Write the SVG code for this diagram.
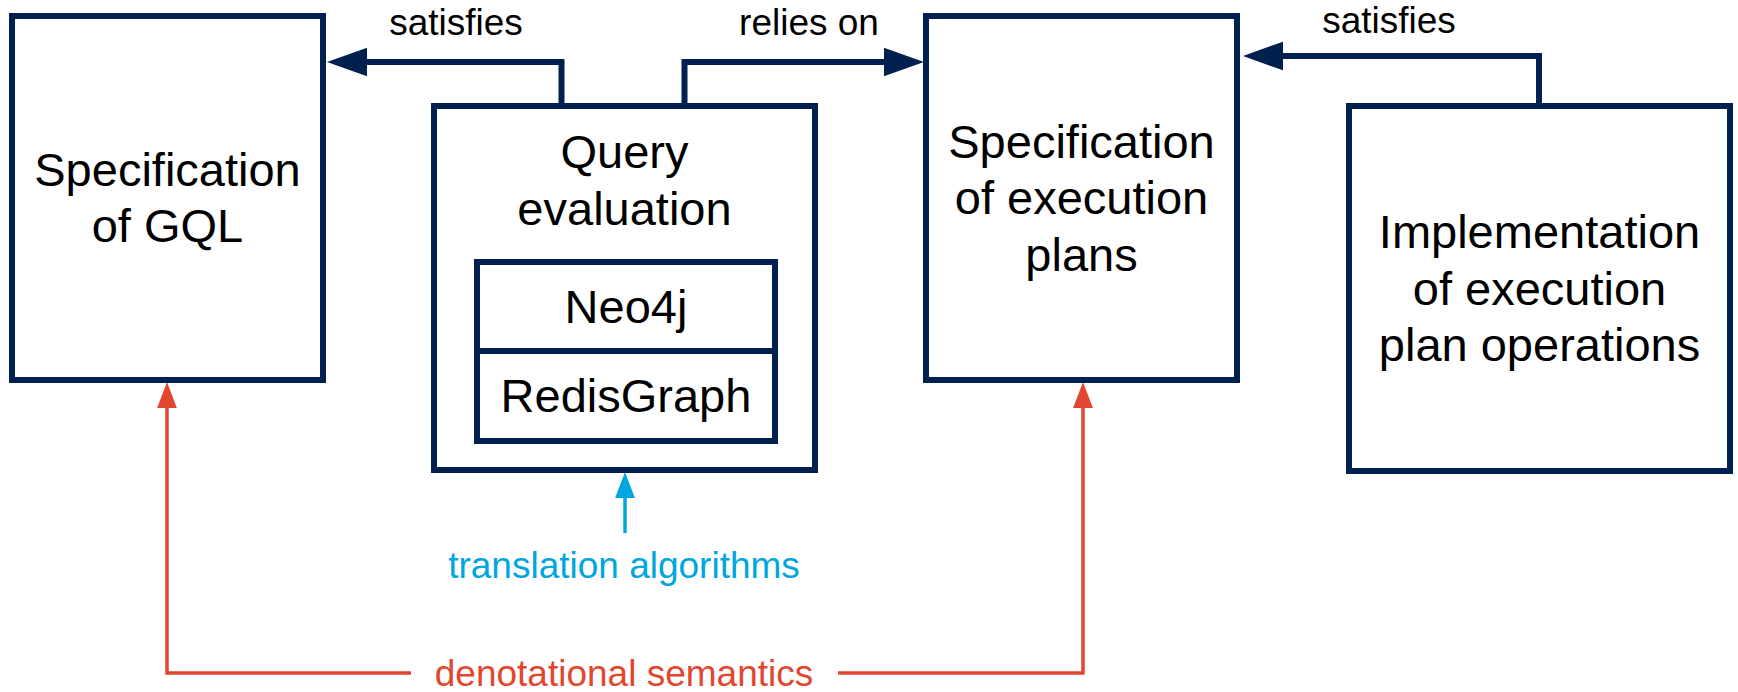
<svg xmlns="http://www.w3.org/2000/svg" width="1738" height="692" viewBox="0 0 1738 692">
  <style>
    .box { fill: #fff; stroke: #00214F; stroke-width: 6; }
    .nt { font-family: "Liberation Sans", Arial, sans-serif; font-size: 47px; fill: #000; text-anchor: middle; }
    .lbl { font-family: "Liberation Sans", Arial, sans-serif; font-size: 37px; text-anchor: middle; }
    .navy { fill: none; stroke: #00214F; stroke-width: 6; stroke-linejoin: miter; }
    .red { fill: none; stroke: #E2462F; stroke-width: 3.5; stroke-linejoin: miter; }
    .blue { fill: none; stroke: #00A6E0; stroke-width: 3.5; }
  </style>
  <defs>
    <marker id="ahNavy" markerUnits="userSpaceOnUse" markerWidth="40" markerHeight="30" viewBox="0 0 39 28" refX="0" refY="14" orient="auto">
      <path d="M0,0 L39,14 L0,28 z" fill="#00214F"/>
    </marker>
    <marker id="ahRed" markerUnits="userSpaceOnUse" markerWidth="26" markerHeight="20" viewBox="0 0 25 19" refX="0" refY="9.5" orient="auto">
      <path d="M0,0 L25,9.5 L0,19 z" fill="#E2462F"/>
    </marker>
    <marker id="ahBlue" markerUnits="userSpaceOnUse" markerWidth="26" markerHeight="20" viewBox="0 0 25 19" refX="0" refY="9.5" orient="auto">
      <path d="M0,0 L25,9.5 L0,19 z" fill="#00A6E0"/>
    </marker>
  </defs>
  <rect width="1738" height="692" fill="#fff"/>

  <g id="connectors">
    <path class="navy" d="M561.5,106 V62 H367" marker-end="url(#ahNavy)"/>
    <path class="navy" d="M684.5,106 V62 H884" marker-end="url(#ahNavy)"/>
    <path class="navy" d="M1539,106 V56 H1283" marker-end="url(#ahNavy)"/>
    <path class="red" d="M411,673 H167 V408" marker-end="url(#ahRed)"/>
    <path class="red" d="M838,673 H1083 V408" marker-end="url(#ahRed)"/>
    <path class="blue" d="M625,533 V498" marker-end="url(#ahBlue)"/>
    <text class="lbl" x="456" y="35" fill="#000">satisfies</text>
    <text class="lbl" x="809" y="35" fill="#000">relies on</text>
    <text class="lbl" x="1389" y="33" fill="#000">satisfies</text>
    <text class="lbl" x="624" y="578" fill="#00A6E0">translation algorithms</text>
    <text class="lbl" x="624" y="686" fill="#E2462F">denotational semantics</text>
  </g>

  <g id="spec-gql">
    <rect class="box" x="12" y="16" width="311" height="364"/>
    <text class="nt" x="167.5" y="186">Specification</text>
    <text class="nt" x="167.5" y="242">of GQL</text>
  </g>

  <g id="query-evaluation">
    <rect class="box" x="434" y="106" width="381" height="364"/>
    <text class="nt" x="624.5" y="168">Query</text>
    <text class="nt" x="624.5" y="225">evaluation</text>
  </g>

  <g id="neo4j">
    <rect class="box" x="477" y="262" width="298" height="89"/>
    <text class="nt" x="626" y="323">Neo4j</text>
  </g>

  <g id="redisgraph">
    <rect class="box" x="477" y="351" width="298" height="90"/>
    <text class="nt" x="626" y="412">RedisGraph</text>
  </g>

  <g id="spec-execution-plans">
    <rect class="box" x="926" y="16" width="311" height="364"/>
    <text class="nt" x="1081.5" y="158">Specification</text>
    <text class="nt" x="1081.5" y="214">of execution</text>
    <text class="nt" x="1081.5" y="271">plans</text>
  </g>

  <g id="impl-execution-plan-ops">
    <rect class="box" x="1349" y="106" width="381" height="365"/>
    <text class="nt" x="1539.5" y="248">Implementation</text>
    <text class="nt" x="1539.5" y="305">of execution</text>
    <text class="nt" x="1539.5" y="361">plan operations</text>
  </g>
</svg>
